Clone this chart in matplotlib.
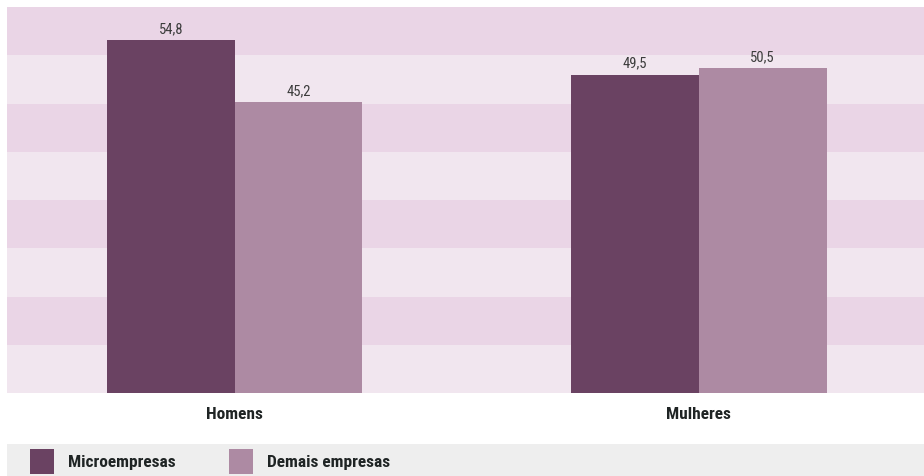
import matplotlib
matplotlib.use("Agg")
import matplotlib.pyplot as plt
from matplotlib.patches import Rectangle
import numpy as np

categories = ["Homens", "Mulheres"]
series_names = ["Microempresas", "Demais empresas"]
micro = [54.8, 49.5]
demais = [45.2, 50.5]
value_labels_micro = ["54,8", "49,5"]
value_labels_demais = ["45,2", "50,5"]

colors = ["#6A4262", "#AD8AA3"]
band_dark = "#EAD5E6"
band_light = "#F1E6EF"

W, H = 924, 476
fig = plt.figure(figsize=(W / 100, H / 100), dpi=100)
fig.patch.set_facecolor("white")

narrow = ["Roboto Condensed", "Liberation Sans Narrow", "DejaVu Sans Condensed",
          "DejaVu Sans"]

ax = fig.add_axes([7 / W, (H - 393) / H, 917 / W, 386 / H])
ymax = 60
ax.set_ylim(0, ymax)
ax.set_xlim(-0.491, 1.485)

# alternating horizontal bands, darker at the top
step = 7.5
for i, y0 in enumerate(np.arange(0, ymax, step)):
    c = band_light if i % 2 == 0 else band_dark
    ax.axhspan(y0, y0 + step, color=c, lw=0, zorder=0)

x = np.arange(len(categories))
bw = 0.275
b1 = ax.bar(x - bw / 2, micro, bw, color=colors[0], zorder=2, lw=0)
b2 = ax.bar(x + bw / 2, demais, bw, color=colors[1], zorder=2, lw=0)

for bars, labels in ((b1, value_labels_micro), (b2, value_labels_demais)):
    for bar, lab in zip(bars, labels):
        ax.annotate(lab, (bar.get_x() + bar.get_width() / 2, bar.get_height()),
                    xytext=(0, 3), textcoords="offset points",
                    ha="center", va="bottom", fontsize=10.5, fontstretch="condensed",
                    family=narrow, color="#3C3C3C")

ax.set_xticks(x)
ax.set_xticklabels(categories, family=narrow, fontweight="bold",
                   fontstretch="condensed", fontsize=12.5, color="#1F2424")
ax.tick_params(axis="x", length=0, pad=10)
ax.set_yticks([])
for s in ax.spines.values():
    s.set_visible(False)

# legend strip
fig.patches.append(Rectangle((7 / W, 0), 1 - 7 / W, 32 / H,
                             transform=fig.transFigure, color="#EEEEEE",
                             lw=0, zorder=0))
legend_x = [30, 229]
for lx, name, c in zip(legend_x, series_names, colors):
    fig.patches.append(Rectangle((lx / W, 2 / H), 24 / W, 25 / H,
                                 transform=fig.transFigure, color=c, lw=0,
                                 zorder=1))
    fig.text((lx + 38) / W, 14 / H, name, family=narrow, fontweight="bold",
             fontstretch="condensed", fontsize=12.5, color="#1F2424",
             ha="left", va="center")

fig.savefig("out.png", dpi=100)
